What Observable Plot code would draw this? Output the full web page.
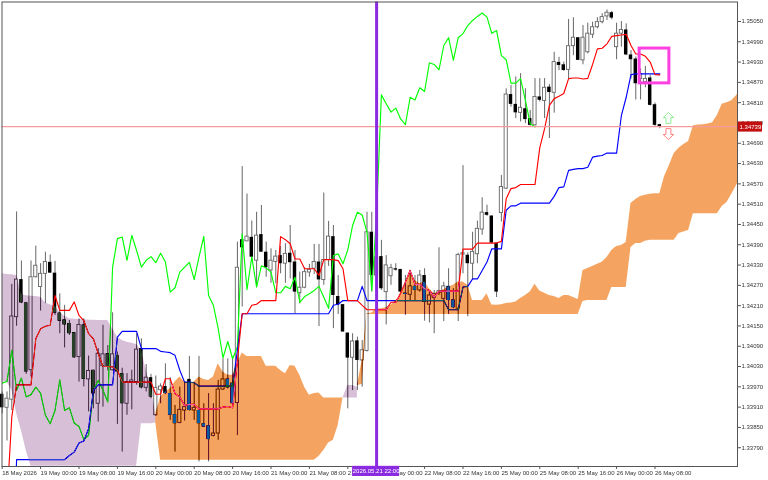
<!DOCTYPE html>
<html><head><meta charset="utf-8">
<script src="https://cdn.jsdelivr.net/npm/d3@7"></script>
<script src="https://cdn.jsdelivr.net/npm/@observablehq/plot@0.6"></script>
<style>html,body{margin:0;padding:0;background:#fff}svg{display:block}</style>
</head><body><div id="chart"></div>
<script>
const open=[1.33948,1.33908,1.33932,1.34176,1.34287,1.34218,1.34019,1.34294,1.34265,1.34304,
1.34338,1.34306,1.34188,1.34168,1.34157,1.34130,1.34058,1.34153,1.33992,1.34019,
1.33920,1.34031,1.34068,1.34019,1.34063,1.34009,1.33920,1.33984,1.33984,1.34083,
1.33967,1.33997,1.33886,1.33960,1.33971,1.33950,1.33888,1.33863,1.33900,1.33992,
1.33900,1.33900,1.33861,1.33855,1.33825,1.33832,1.33962,1.33993,1.33981,1.33922,
1.34405,1.34400,1.34412,1.34343,1.34420,1.34368,1.34314,1.34339,1.34358,1.34334,
1.34365,1.34339,1.34247,1.34263,1.34308,1.34319,1.34339,1.34286,1.34345,1.34414,
1.34237,1.34213,1.34129,1.34056,1.34106,1.34048,1.34076,1.34427,1.34299,1.34355,
1.34250,1.34297,1.34319,1.34317,1.34247,1.34242,1.34267,1.34255,1.34299,1.34213,
1.34233,1.34247,1.34230,1.34267,1.34227,1.34201,1.34361,1.34359,1.34334,1.34362,
1.34435,1.34485,1.34475,1.34395,1.34484,1.34556,1.34834,1.34805,1.34780,1.34792,
1.34763,1.34743,1.34827,1.34815,1.34856,1.34839,1.34929,1.34922,1.34907,1.34977,
1.35002,1.34935,1.34959,1.35011,1.35033,1.35048,1.35065,1.35076,1.34974,1.35014,
1.35025,1.34951,1.34939,1.34880,1.34871,1.34883,1.34804,1.34745];
const close=[1.33908,1.33935,1.34178,1.34287,1.34218,1.34014,1.34294,1.34328,1.34304,1.34339,
1.34306,1.34188,1.34164,1.34153,1.34127,1.34056,1.34153,1.33992,1.34017,1.33949,
1.34068,1.34066,1.34029,1.34066,1.34014,1.33920,1.33984,1.33989,1.34080,1.33967,
1.33997,1.33940,1.33967,1.33971,1.33950,1.33886,1.33861,1.33902,1.33910,1.33900,
1.33908,1.33861,1.33851,1.33814,1.33832,1.33962,1.33992,1.33967,1.33920,1.34322,
1.34381,1.34414,1.34353,1.34417,1.34368,1.34322,1.34343,1.34355,1.34334,1.34363,
1.34337,1.34250,1.34263,1.34309,1.34316,1.34339,1.34286,1.34345,1.34414,1.34240,
1.34212,1.34132,1.34055,1.34104,1.34048,1.34078,1.34427,1.34299,1.34353,1.34260,
1.34329,1.34321,1.34315,1.34250,1.34243,1.34267,1.34255,1.34299,1.34220,1.34240,
1.34245,1.34253,1.34267,1.34225,1.34204,1.34360,1.34365,1.34334,1.34369,1.34437,
1.34485,1.34477,1.34395,1.34250,1.34561,1.34834,1.34805,1.34780,1.34795,1.34760,
1.34743,1.34827,1.34817,1.34854,1.34840,1.34930,1.34920,1.34905,1.34977,1.35002,
1.34935,1.35002,1.35014,1.35033,1.35048,1.35063,1.35076,1.35060,1.35014,1.35025,
1.34951,1.34937,1.34866,1.34895,1.34880,1.34802,1.34743,1.34739];
const high=[1.33955,1.33955,1.34273,1.34487,1.34342,1.34218,1.34342,1.34386,1.34334,1.34368,
1.34360,1.34341,1.34245,1.34211,1.34166,1.34130,1.34171,1.34171,1.34061,1.34019,
1.34083,1.34152,1.34092,1.34189,1.34073,1.34025,1.34009,1.34019,1.34127,1.34112,
1.34036,1.34007,1.34002,1.33979,1.34038,1.33997,1.33915,1.33969,1.33984,1.34060,
1.33979,1.34060,1.33920,1.33950,1.33920,1.33989,1.34053,1.34053,1.34053,1.34398,
1.34621,1.34540,1.34460,1.34486,1.34506,1.34398,1.34378,1.34373,1.34385,1.34393,
1.34447,1.34373,1.34309,1.34322,1.34332,1.34391,1.34391,1.34543,1.34459,1.34447,
1.34299,1.34213,1.34129,1.34127,1.34117,1.34107,1.34486,1.34486,1.34452,1.34403,
1.34358,1.34332,1.34334,1.34317,1.34299,1.34314,1.34299,1.34314,1.34319,1.34255,
1.34255,1.34381,1.34279,1.34319,1.34260,1.34365,1.34624,1.34366,1.34427,1.34460,
1.34529,1.34507,1.34475,1.34395,1.34595,1.34851,1.34861,1.34886,1.34896,1.34851,
1.34787,1.34881,1.34881,1.34881,1.34864,1.34959,1.34944,1.34930,1.35056,1.35061,
1.35002,1.35038,1.35045,1.35048,1.35061,1.35073,1.35084,1.35080,1.35045,1.35050,
1.35043,1.34964,1.34945,1.34910,1.34917,1.34890,1.34809,1.34746];
const low=[1.33890,1.33810,1.33900,1.34149,1.34216,1.34007,1.33999,1.34292,1.34194,1.34216,
1.34306,1.34181,1.34127,1.34085,1.34122,1.34054,1.33984,1.33970,1.33896,1.33905,
1.33866,1.33910,1.34017,1.34017,1.33859,1.33777,1.33886,1.33902,1.33975,1.33964,
1.33955,1.33935,1.33883,1.33920,1.33947,1.33871,1.33777,1.33861,1.33869,1.33898,
1.33871,1.33748,1.33851,1.33748,1.33822,1.33812,1.33960,1.33964,1.33920,1.33826,
1.34206,1.34400,1.34343,1.34263,1.34368,1.34294,1.34276,1.34275,1.34304,1.34276,
1.34289,1.34186,1.34215,1.34260,1.34294,1.34302,1.34148,1.34270,1.34326,1.34142,
1.34184,1.34132,1.33905,1.33959,1.33959,1.33969,1.34073,1.34250,1.34294,1.34255,
1.34153,1.34270,1.34312,1.34247,1.34181,1.34225,1.34225,1.34250,1.34164,1.34159,
1.34127,1.34240,1.34163,1.34184,1.34201,1.34163,1.34304,1.34177,1.34285,1.34334,
1.34418,1.34474,1.34393,1.34234,1.34457,1.34553,1.34797,1.34763,1.34753,1.34748,
1.34741,1.34741,1.34812,1.34763,1.34704,1.34779,1.34905,1.34903,1.34880,1.34949,
1.34935,1.34922,1.34954,1.35000,1.35028,1.35043,1.35053,1.35055,1.34937,1.34974,
1.34949,1.34880,1.34818,1.34818,1.34854,1.34800,1.34740,1.34733];
const tenkan=[null,1.33634,1.33881,1.33976,1.33976,1.33976,1.33976,1.34112,1.34142,1.34149,
1.34152,1.34240,1.34196,1.34196,1.34196,1.34221,1.34181,1.34166,1.34127,1.34112,
1.34068,1.34030,1.34030,1.34029,1.34019,1.33984,1.33984,1.33984,1.33984,1.33984,
1.33984,1.33984,1.33948,1.33948,1.33994,1.33994,1.33950,1.33940,1.33915,1.33918,
1.33918,1.33905,1.33905,1.33905,1.33905,1.33905,1.33910,1.33912,1.33908,1.34048,
1.34186,1.34186,1.34211,1.34214,1.34225,1.34225,1.34225,1.34225,1.34414,1.34405,
1.34393,1.34348,1.34348,1.34319,1.34319,1.34319,1.34299,1.34346,1.34346,1.34346,
1.34343,1.34319,1.34225,1.34225,1.34225,1.34211,1.34198,1.34198,1.34198,1.34198,
1.34198,1.34220,1.34220,1.34247,1.34280,1.34314,1.34273,1.34273,1.34260,1.34255,
1.34235,1.34253,1.34253,1.34253,1.34253,1.34253,1.34377,1.34377,1.34377,1.34395,
1.34395,1.34395,1.34395,1.34395,1.34400,1.34526,1.34556,1.34559,1.34568,1.34568,
1.34568,1.34568,1.34677,1.34733,1.34802,1.34822,1.34829,1.34837,1.34881,1.34883,
1.34883,1.34880,1.34882,1.34923,1.34969,1.34971,1.34984,1.35006,1.35008,1.35010,
1.35012,1.34979,1.34954,1.34954,1.34947,1.34930,1.34893,1.34892];
const kijun=[null,null,1.33338,1.33755,1.33755,1.33755,1.33755,1.33755,1.33755,1.33755,
1.33755,1.33755,1.33755,1.33755,1.33767,1.33777,1.33804,1.33810,1.33846,1.33960,
1.33976,1.33976,1.33976,1.33976,1.34117,1.34134,1.34134,1.34134,1.34134,1.34083,
1.34083,1.34083,1.34083,1.34075,1.34073,1.34071,1.34063,1.34019,1.33984,1.33984,
1.33982,1.33972,1.33972,1.33972,1.33972,1.33972,1.33972,1.33972,1.33972,1.34078,
1.34186,1.34186,1.34186,1.34186,1.34186,1.34186,1.34186,1.34186,1.34186,1.34186,
1.34186,1.34186,1.34186,1.34186,1.34186,1.34186,1.34186,1.34186,1.34186,1.34211,
1.34214,1.34225,1.34225,1.34225,1.34225,1.34267,1.34225,1.34225,1.34225,1.34225,
1.34225,1.34225,1.34225,1.34225,1.34225,1.34225,1.34225,1.34225,1.34225,1.34225,
1.34225,1.34225,1.34225,1.34198,1.34198,1.34198,1.34265,1.34267,1.34289,1.34289,
1.34314,1.34339,1.34378,1.34378,1.34378,1.34492,1.34505,1.34505,1.34513,1.34513,
1.34513,1.34513,1.34513,1.34513,1.34513,1.34533,1.34559,1.34561,1.34610,1.34613,
1.34615,1.34615,1.34619,1.34649,1.34652,1.34654,1.34661,1.34661,1.34661,1.34772,
1.34826,1.34893,1.34895,1.34895,1.34895,1.34895,1.34895,1.34895];
const chikou=[1.33981,1.33986,1.34078,1.33960,1.33996,1.33940,1.33947,1.33969,1.33951,1.33886,
1.33861,1.33900,1.33991,1.33900,1.33908,1.33863,1.33853,1.33814,1.33827,1.33960,
1.33989,1.33960,1.33925,1.34324,1.34408,1.34413,1.34344,1.34418,1.34373,1.34324,
1.34344,1.34355,1.34337,1.34365,1.34339,1.34250,1.34263,1.34309,1.34324,1.34338,
1.34287,1.34354,1.34415,1.34240,1.34211,1.34142,1.34056,1.34104,1.34053,1.34088,
1.34422,1.34257,1.34354,1.34265,1.34328,1.34321,1.34309,1.34248,1.34248,1.34267,
1.34260,1.34294,1.34220,1.34237,1.34245,1.34255,1.34267,1.34235,1.34202,1.34358,
1.34363,1.34334,1.34375,1.34447,1.34486,1.34478,1.34427,1.34255,1.34481,1.34833,
1.34807,1.34782,1.34794,1.34762,1.34745,1.34826,1.34818,1.34854,1.34843,1.34928,
1.34923,1.34907,1.34979,1.35002,1.34935,1.35002,1.35014,1.35038,1.35053,1.35065,
1.35075,1.35063,1.35015,1.35023,1.34949,1.34937,1.34868,1.34868,1.34881,1.34817,
1.34748,1.34738];
// Ichimoku cloud stretches: first bar index, upper and lower span values
const purpleStart=0;
const purpleTop=[1.34304,1.34302,1.34301,1.34299,1.34243,1.34239,1.34238,1.34237,1.34235,1.34218,
1.34213,1.34208,1.34191,1.34179,1.34171,1.34170,1.34169,1.34168,1.34167,1.34167,
1.34166,1.34166,1.34166,1.34142,1.34117,1.34107,1.34102,1.34099,1.34095,1.34078,
1.34019,1.33969,1.33891];
const purpleBottom=[1.33984,1.33984,1.33960,1.33891,1.33841,1.33782,1.33735,1.33735,1.33735,1.33735,
1.33735,1.33735,1.33735,1.33735,1.33735,1.33735,1.33735,1.33735,1.33735,1.33735,
1.33735,1.33735,1.33735,1.33735,1.33735,1.33735,1.33735,1.33735,1.33735,1.33861,
1.33861,1.33861,1.33863];
const orangeStart=32;
const orangeTop=[1.33891,1.33940,1.33955,1.33964,1.33984,1.33999,1.33984,1.33981,1.33984,1.33999,
1.33992,1.33989,1.33999,1.34038,1.34014,1.34004,1.34004,1.34038,1.34070,1.34060,
1.34060,1.34060,1.34060,1.34031,1.34031,1.34031,1.34018,1.34009,1.34033,1.34031,
1.34004,1.33969,1.33945,1.33950,1.33952,1.33937,1.33937,1.33937,1.33937,1.33937];
const orangeBottom=[1.33863,1.33753,1.33753,1.33753,1.33753,1.33753,1.33753,1.33753,1.33753,1.33753,
1.33753,1.33753,1.33753,1.33753,1.33753,1.33753,1.33753,1.33753,1.33753,1.33753,
1.33753,1.33753,1.33753,1.33753,1.33753,1.33753,1.33753,1.33753,1.33753,1.33753,
1.33753,1.33753,1.33753,1.33753,1.33764,1.33782,1.33804,1.33812,1.33856,1.33937];
const bubbleStart=71;
const bubbleTop=[1.33937,1.33974,1.33974,1.33969];
const bubbleBottom=[1.33937,1.33937,1.33937,1.33937];
const orange2Start=74;
const orange2Top=[1.33974,1.34048,1.34186,1.34188,1.34199,1.34201,1.34204,1.34211,1.34225,1.34240,
1.34275,1.34316,1.34284,1.34275,1.34280,1.34260,1.34245,1.34250,1.34257,1.34265,
1.34270,1.34280,1.34280,1.34270,1.34225,1.34225,1.34225,1.34245,1.34212,1.34211,
1.34213,1.34216,1.34218,1.34221,1.34231,1.34240,1.34250,1.34273,1.34253,1.34247,
1.34240,1.34237,1.34231,1.34240,1.34240,1.34234,1.34228,1.34314,1.34320,1.34326,
1.34332,1.34338,1.34352,1.34373,1.34385,1.34388,1.34397,1.34512,1.34524,1.34533,
1.34536,1.34539,1.34541,1.34541,1.34592,1.34624,1.34660,1.34675,1.34686,1.34695,
1.34742,1.34744,1.34745,1.34747,1.34751,1.34772,1.34805,1.34810,1.34816,1.34831,
1.34834];
const orange2Bottom=[1.33974,1.33977,1.34184,1.34184,1.34184,1.34184,1.34184,1.34184,1.34184,1.34184,
1.34184,1.34184,1.34184,1.34184,1.34184,1.34184,1.34184,1.34184,1.34184,1.34184,
1.34184,1.34184,1.34184,1.34184,1.34184,1.34184,1.34184,1.34184,1.34184,1.34184,
1.34184,1.34184,1.34184,1.34184,1.34184,1.34184,1.34184,1.34184,1.34184,1.34184,
1.34184,1.34184,1.34184,1.34184,1.34184,1.34184,1.34184,1.34222,1.34225,1.34225,
1.34225,1.34225,1.34225,1.34264,1.34264,1.34264,1.34264,1.34382,1.34394,1.34394,
1.34400,1.34403,1.34403,1.34403,1.34403,1.34403,1.34403,1.34423,1.34428,1.34432,
1.34482,1.34482,1.34482,1.34482,1.34482,1.34482,1.34503,1.34515,1.34539,1.34565,
1.34570];
const xTickBars=[0,8,16,24,32,40,48,56,64,72,80,88,96,104,112,120,128,136];
const xTickLabels=["18 May 2026","19 May 00:00","19 May 08:00","19 May 16:00","20 May 00:00","20 May 08:00","20 May 16:00","21 May 00:00","21 May 08:00","21 May 16:00","22 May 00:00","22 May 08:00","22 May 16:00","25 May 00:00","25 May 08:00","25 May 16:00","26 May 00:00","26 May 08:00"];
const yTicks=[1.33790,1.33850,1.33910,1.33970,1.34030,1.34090,1.34150,1.34210,1.34270,1.34330,1.34390,1.34450,1.34510,1.34570,1.34630,1.34690,1.34750,1.34810,1.34870,1.34930,1.34990,1.35050];
const lastPrice=1.34739, lastPriceLabel="1.34739";
const crossBar=78, crossLabel="2026.05.21 22:00";
const boxBars=[132.8,139], boxPrices=[1.34970,1.34867];
const upArrow={bar:138.8,price:1.34765}, downArrow={bar:138.8,price:1.34717};
const crossLabelBars=[73,82.8], crossLabelPrices=[1.33735,1.33705];
const priceLabelBars=[153.35,158.4], priceLabelPrices=[1.34753,1.34723];
const xMax=153.19;

const rows=open.map((o,i)=>({i,o,c:close[i],h:high[i],l:low[i]}));
const series=a=>a.map((v,i)=>({i,v})).filter(d=>d.v!=null);
const seg=(start,t,b)=>t.map((v,k)=>({i:Math.min(start+k,xMax),t:v,b:b[k]}));
const arrow=dir=>({draw(ctx,size){const r=Math.sqrt(size/Math.PI),s=dir;
  ctx.moveTo(0,-r*s);ctx.lineTo(r*.95,-r*.05*s);ctx.lineTo(r*.45,-r*.05*s);ctx.lineTo(r*.45,r*s);
  ctx.lineTo(-r*.45,r*s);ctx.lineTo(-r*.45,-r*.05*s);ctx.lineTo(-r*.95,-r*.05*s);ctx.closePath();}});
const font="'Liberation Sans',Arial,sans-serif";
const lineOpt=c=>({x:"i",y:"v",stroke:c,strokeWidth:1.15,clip:true});
const cloudOpt=c=>({x:"i",y1:"t",y2:"b",fill:c,mixBlendMode:"difference"});

const plot=Plot.plot({
  width:768,height:480,marginLeft:1.5,marginRight:31,marginTop:1.5,marginBottom:14,
  style:{background:"#fff",fontFamily:font,overflow:"visible"},
  x:{type:"linear",domain:[-0.042,xMax]},
  y:{type:"linear",domain:[1.337345,1.351076]},
  marks:[
    Plot.frame({fill:"#fff",stroke:null}),
    Plot.ruleX(rows,{x:"i",y1:"l",y2:"h",stroke:"#666",strokeWidth:1}),
    Plot.rect(rows.filter(d=>d.c>=d.o),{x1:d=>d.i-.33,x2:d=>d.i+.33,y1:"o",y2:"c",fill:"#fff",stroke:"#666",strokeWidth:.9}),
    Plot.rect(rows.filter(d=>d.c<d.o),{x1:d=>d.i-.36,x2:d=>d.i+.36,y1:"o",y2:"c",fill:"#000"}),
    Plot.line(series(chikou),lineOpt("#00ff00")),
    Plot.line(series(kijun),lineOpt("#0000ff")),
    Plot.line(series(tenkan),lineOpt("#ff0000")),
    Plot.areaY(seg(purpleStart,purpleTop,purpleBottom),cloudOpt("#274027")),
    Plot.areaY(seg(orangeStart,orangeTop,orangeBottom),cloudOpt("#0b5b9f")),
    Plot.areaY(seg(bubbleStart,bubbleTop,bubbleBottom),cloudOpt("#274027")),
    Plot.areaY(seg(orange2Start,orange2Top,orange2Bottom),cloudOpt("#0b5b9f")),
    Plot.ruleY([lastPrice],{stroke:"#f49a9a",strokeWidth:1.2}),
    Plot.ruleX([crossBar],{stroke:"#8a2be2",strokeWidth:3}),
    Plot.rect([0],{x1:boxBars[0],x2:boxBars[1],y1:boxPrices[0],y2:boxPrices[1],fill:"none",stroke:"#ff40e0",strokeWidth:3}),
    Plot.dot([upArrow],{x:"bar",y:"price",r:5.5,symbol:arrow(1),fill:"#fff",stroke:"#90ee90",strokeWidth:1}),
    Plot.dot([downArrow],{x:"bar",y:"price",r:5.5,symbol:arrow(-1),fill:"#fff",stroke:"#ff8080",strokeWidth:1}),
    Plot.frame({stroke:"#555",strokeWidth:1}),
    Plot.axisX({ticks:xTickBars,tickSize:3,tickPadding:1.5,tickFormat:i=>xTickLabels[xTickBars.indexOf(i)],textAnchor:"start",fontSize:6,fill:"#333",stroke:"#555",label:null,lineAnchor:"top"}),
    Plot.axisY({anchor:"right",ticks:yTicks,tickSize:3,tickPadding:1,tickFormat:d3.format(".5f"),fontSize:6,fill:"#333",stroke:"#555",label:null}),
    Plot.rect([0],{x1:crossLabelBars[0],x2:crossLabelBars[1],y1:crossLabelPrices[0],y2:crossLabelPrices[1],fill:"#8a2be2"}),
    Plot.text([crossLabel],{x:(crossLabelBars[0]+crossLabelBars[1])/2,y:(crossLabelPrices[0]+crossLabelPrices[1])/2,text:d=>d,fill:"#fff",fontSize:6}),
    Plot.rect([0],{x1:priceLabelBars[0],x2:priceLabelBars[1],y1:priceLabelPrices[0],y2:priceLabelPrices[1],fill:"#c21010"}),
    Plot.text([lastPriceLabel],{x:(priceLabelBars[0]+priceLabelBars[1])/2,y:lastPrice,text:d=>d,fill:"#fff",fontSize:6})
  ]
});
document.getElementById("chart").append(plot);
</script></body></html>
